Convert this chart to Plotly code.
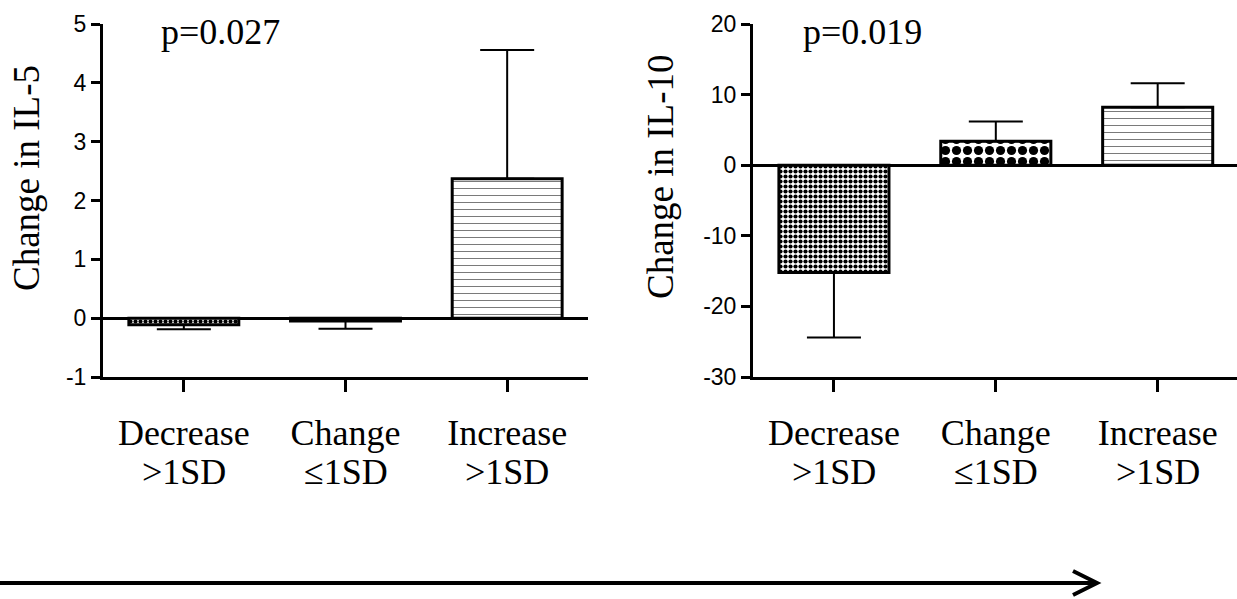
import plotly.graph_objects as go

# ---------------- data ----------------
cat_line1 = ["Decrease", "Change", "Increase"]
cat_line2 = [">1SD", "≤1SD", ">1SD"]
il5_mean = [-0.11, -0.05, 2.37]
il5_err = [0.08, 0.13, 2.19]
il10_mean = [-15.2, 3.4, 8.2]
il10_err = [9.2, 2.8, 3.4]
il5_ticks = [-1, 0, 1, 2, 3, 4, 5]
il10_ticks = [-30, -20, -10, 0, 10, 20]
p_values = ["p=0.027", "p=0.019"]
y_titles = ["Change in IL-5", "Change in IL-10"]

W, H = 1237, 599
SERIF = "Liberation Serif"
SANS = "Liberation Sans"


def px(x):
    return x / W


def py(y):
    return 1 - y / H


pattern = dict(
    shape=[".", ".", "-"],
    size=[5, 11, 7],
    solidity=[0.55, 0.55, 0.15],
    fgcolor=["black", "black", "#7a7a7a"],
    fgopacity=1,
    bgcolor="white",
    fillmode="overlay",
)


def bar_trace(means, errs, xa, ya):
    upper = [e if m > 0 else 0 for m, e in zip(means, errs)]
    lower = [e if m < 0 else 0 for m, e in zip(means, errs)]
    return go.Bar(
        x=cat_line1, y=means, xaxis=xa, yaxis=ya, width=0.68,
        marker=dict(color="white", line=dict(color="black", width=3), pattern=pattern),
        error_y=dict(type="data", symmetric=False, array=upper, arrayminus=lower,
                     color="black", thickness=2, width=27),
        showlegend=False, hoverinfo="skip",
    )


fig = go.Figure()
fig.add_trace(bar_trace(il5_mean, il5_err, "x", "y"))
fig.add_trace(bar_trace(il10_mean, il10_err, "x2", "y2"))

ydom = [py(377), py(24)]
xcommon = dict(
    type="category", showline=True, linewidth=3, linecolor="black",
    ticks="outside", ticklen=12, tickwidth=3, tickcolor="black",
    tickfont=dict(family=SERIF, size=36, color="black"), ticklabelstandoff=10,
    showgrid=False, zeroline=False, fixedrange=True,
)
ycommon = dict(
    showline=True, linewidth=3, linecolor="black",
    ticks="outside", ticklen=9, tickwidth=3, tickcolor="black",
    tickfont=dict(family=SANS, size=23, color="black"),
    showgrid=False, zeroline=True, zerolinewidth=3, zerolinecolor="black",
    domain=ydom, fixedrange=True,
)

fig.update_layout(
    width=W, height=H, margin=dict(l=0, r=0, t=0, b=0, autoexpand=False),
    paper_bgcolor="white", plot_bgcolor="white", showlegend=False,
    xaxis=dict(xcommon, domain=[px(103), px(588)], anchor="y", range=[-0.5, 2.5]),
    xaxis2=dict(xcommon, domain=[px(753), 1.0], anchor="y2", range=[-0.5, 2.49]),
    yaxis=dict(ycommon, range=[min(il5_ticks), max(il5_ticks)], anchor="x",
               tickvals=il5_ticks, ticktext=[str(v) for v in il5_ticks]),
    yaxis2=dict(ycommon, range=[min(il10_ticks), max(il10_ticks)], anchor="x2",
                tickvals=il10_ticks, ticktext=[str(v) for v in il10_ticks]),
)

# second line of the category labels
for xref in ["x", "x2"]:
    for c, t in zip(cat_line1, cat_line2):
        fig.add_annotation(text=t, xref=xref, yref="paper", x=c, y=py(472),
                           showarrow=False, xanchor="center", yanchor="middle",
                           font=dict(family=SERIF, size=36, color="black"))

# axis titles (serif, rotated)
for txt, xc, yc in [(y_titles[0], 27, 178), (y_titles[1], 661, 177)]:
    fig.add_annotation(text=txt, textangle=-90, xref="paper", yref="paper",
                       x=px(xc), y=py(yc), showarrow=False,
                       font=dict(family=SERIF, size=37, color="black"),
                       xanchor="center", yanchor="middle")

# p-values
for txt, xc, yc in [(p_values[0], 220, 32), (p_values[1], 862, 32)]:
    fig.add_annotation(text=txt, xref="paper", yref="paper",
                       x=px(xc), y=py(yc), showarrow=False,
                       font=dict(family=SERIF, size=36, color="black"),
                       xanchor="center", yanchor="middle")

# bottom arrow
ya = py(583)
fig.add_shape(type="line", xref="paper", yref="paper", x0=0, x1=px(1095), y0=ya, y1=ya,
              line=dict(color="black", width=4))
fig.add_shape(type="path", xref="paper", yref="paper",
              path=f"M {px(1073)} {py(571)} L {px(1097)} {ya} L {px(1073)} {py(595)}",
              line=dict(color="black", width=4))

fig.write_html(
    "out.html",
    config={"displayModeBar": False, "staticPlot": True},
    post_script="document.body.style.margin='0';document.body.style.overflow='hidden';",
)
